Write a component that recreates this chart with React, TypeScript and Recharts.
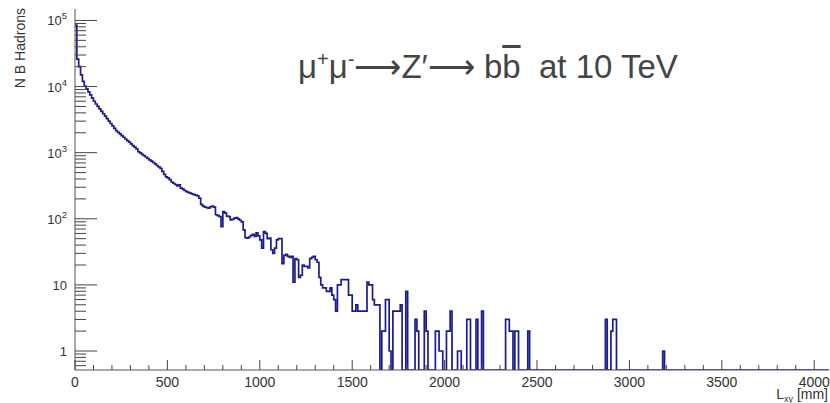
import { LineChart, Line, XAxis, YAxis } from "recharts";

// histogram binning (10 mm bins, frame 0..4080 mm)
const BIN_WIDTH = 10;
const X_MAX = 4080;
const Y_MIN = 0.516;
const Y_MAX = 1.49e5;

// counts per bin, starting at 0 mm
const bodyCounts = [
  85000, 26000, 20000, 15000, 12000, 10200, 9200, 8300, 7500, 6700,
  6000, 5450, 5000, 4600, 4220, 3880, 3560, 3270, 3010, 2760,
  2540, 2330, 2150, 2030, 1920, 1810, 1710, 1610, 1520, 1440,
  1360, 1280, 1210, 1140, 1040, 990, 945, 900, 860, 820,
  780, 745, 710, 675, 640, 610, 580, 520, 470, 430,
  415, 390, 360, 345, 330, 315, 325, 290, 280, 268,
  258, 250, 245, 238, 232, 228, 222, 205, 165, 155,
  150, 148, 145, 152, 156, 150, 115, 112, 108, 76,
  128, 122, 110, 108, 96, 98, 102, 104, 100, 95,
  90, 68, 52, 51, 53, 56, 58, 54, 61, 55,
  48, 36, 64, 60, 50, 51, 34, 30, 36, 48,
  50, 50, 21, 28, 29, 27, 26, 27, 11, 25,
  24, 13, 14, 20, 19, 19, 18, 25, 26, 27,
  24, 22, 13, 10, 9, 9, 8, 8, 9, 7,
  6, 4, 10, 10, 12, 12, 12, 12, 7, 7,
  4, 4, 5, 4, 4, 4, 4, 4, 11, 10,
  10, 6, 5, 5, 5,
];

// sparse tail: [bin lower edge in mm, count]
const tailBins: [number, number][] = [
  [1660, 2], [1670, 2], [1680, 6], [1690, 6], [1700, 1],
  [1720, 4], [1730, 4], [1740, 4], [1750, 4], [1760, 5],
  [1790, 8],
  [1840, 3], [1850, 2],
  [1890, 4], [1900, 2],
  [1950, 2], [1960, 2], [1970, 1], [1980, 1],
  [2010, 2], [2020, 2], [2030, 4],
  [2070, 1], [2080, 1],
  [2120, 3], [2130, 3], [2170, 3], [2200, 4],
  [2330, 3], [2340, 3], [2350, 2], [2360, 2], [2380, 2], [2390, 2],
  [2450, 2],
  [2870, 3], [2900, 2], [2910, 3], [2920, 3],
  [3180, 1],
];

const xMajorTicks = [0, 500, 1000, 1500, 2000, 2500, 3000, 3500, 4000];
const xMinorStep = 100;
const yDecades = [0.1, 1, 10, 100, 1000, 10000, 100000];
const yMinorFactors = [2, 3, 4, 5, 6, 7, 8, 9];

const nBins = X_MAX / BIN_WIDTH;
const counts: number[] = new Array(nBins).fill(0);
bodyCounts.forEach((c, i) => (counts[i] = c));
tailBins.forEach(([mm, c]) => (counts[Math.round(mm / BIN_WIDTH)] = c));
// zero bins sit on the bottom of the log frame, like ROOT draws them
const histData = counts.map((c, i) => ({ x: i * BIN_WIDTH, y: c > 0 ? c : Y_MIN }));
histData.push({ x: X_MAX, y: Y_MIN });

const xTicks: number[] = [];
for (let v = 0; v <= xMajorTicks[xMajorTicks.length - 1]; v += xMinorStep) xTicks.push(v);

const yTicks: number[] = [];
yDecades.forEach((d) => {
  if (d >= Y_MIN && d <= Y_MAX) yTicks.push(d);
  yMinorFactors.forEach((k) => {
    const v = k * d;
    if (v >= Y_MIN && v <= Y_MAX) yTicks.push(v);
  });
});

const FONT = '"Liberation Sans", Arial, Helvetica, sans-serif';
const AXIS = "#555";
const TICK = "#444";

// ROOT-style ticks: drawn inward from the axis line
const XTick = (props: any) => {
  const x = Number(props.x);
  const y = Number(props.y);
  const v = props.payload.value;
  const major = xMajorTicks.includes(v);
  return (
    <g>
      <path d={`M${x},${y}V${y - (major ? 10 : 5)}`} stroke={TICK} strokeWidth={1} fill="none" />
      {major && (
        <text x={x} y={y + 17} textAnchor="middle" fontSize={14} fill="#333" fontFamily={FONT}>
          {v}
        </text>
      )}
    </g>
  );
};

const YTick = (props: any) => {
  const x = Number(props.x);
  const y = Number(props.y);
  const lg = Math.log10(props.payload.value);
  const e = Math.round(lg);
  const major = Math.abs(lg - e) < 1e-6;
  return (
    <g>
      <path d={`M${x},${y}H${x + (major ? 22 : 11)}`} stroke={TICK} strokeWidth={1} fill="none" />
      {major && (
        <text x={x - 8} y={y + 5} textAnchor="end" fontSize={13} fill="#333" fontFamily={FONT}>
          {e === 0 ? "1" : "10"}
          {e >= 2 && (
            <tspan dy={-6} fontSize={9.5}>
              {e}
            </tspan>
          )}
        </text>
      )}
    </g>
  );
};

export default function App() {
  return (
    <div style={{ position: "absolute", left: 0, top: 0, width: 830, height: 403, background: "#fff" }}>
      <LineChart width={830} height={403} data={histData} margin={{ top: 9, right: 1, bottom: 0, left: 0 }}>
        <XAxis
          dataKey="x"
          type="number"
          domain={[0, X_MAX]}
          ticks={xTicks}
          interval={0}
          tickSize={0}
          tickMargin={0}
          tickLine={false}
          tick={<XTick />}
          height={33}
          axisLine={{ stroke: AXIS }}
          allowDataOverflow
        />
        <XAxis
          xAxisId="top"
          orientation="top"
          type="number"
          domain={[0, X_MAX]}
          height={0}
          tick={false}
          tickLine={false}
          axisLine={{ stroke: AXIS }}
        />
        <YAxis
          type="number"
          scale="log"
          domain={[Y_MIN, Y_MAX]}
          ticks={yTicks}
          interval={0}
          tickSize={0}
          tickMargin={0}
          tickLine={false}
          tick={<YTick />}
          width={75}
          axisLine={{ stroke: AXIS }}
          allowDataOverflow
        />
        <YAxis
          yAxisId="right"
          orientation="right"
          type="number"
          domain={[0, 1]}
          width={0}
          tick={false}
          tickLine={false}
          axisLine={{ stroke: AXIS }}
        />
        <Line
          type="stepAfter"
          dataKey="y"
          stroke="#1c1c8e"
          strokeWidth={1.7}
          dot={false}
          isAnimationActive={false}
        />
      </LineChart>

      <svg width={830} height={403} style={{ position: "absolute", left: 0, top: 0, pointerEvents: "none" }}>
        <text
          transform="rotate(-90)"
          x={-8}
          y={25}
          textAnchor="end"
          fontSize={14}
          fill="#333"
          fontFamily={FONT}
        >
          N B Hadrons
        </text>
        <text x={828} y={399} textAnchor="end" fontSize={14} fill="#333" fontFamily={FONT}>
          L
          <tspan dy={3} fontSize={9}>
            xy
          </tspan>
          <tspan dy={-3}> [mm]</tspan>
        </text>
      </svg>

      <div
        style={{
          position: "absolute",
          left: 298,
          top: 50,
          fontSize: 33,
          lineHeight: "33px",
          color: "#444",
          fontFamily: FONT,
          whiteSpace: "pre",
        }}
      >
        μ<sup style={{ fontSize: 20, lineHeight: 0, verticalAlign: 12 }}>+</sup>μ
        <sup style={{ fontSize: 20, lineHeight: 0, verticalAlign: 12 }}>-</sup>⟶Z′⟶ b
        <span style={{ textDecoration: "overline" }}>b</span>{"  at 10 TeV"}
      </div>
    </div>
  );
}
